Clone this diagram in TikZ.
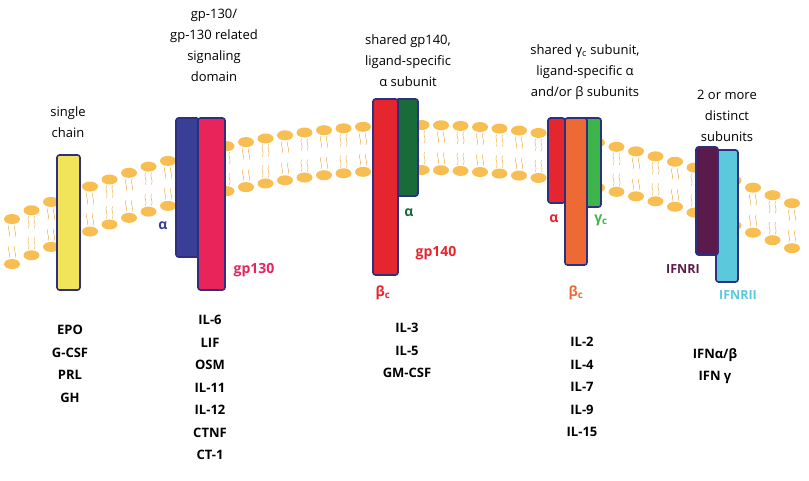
\documentclass[tikz,border=0pt]{standalone}
\usepackage{fontspec}
\setmainfont{Open Sans}
\begin{document}
\begin{tikzpicture}[x=1pt,y=-1pt,
  rec/.style={draw=navy,line width=1.6pt,rounded corners=2.5pt},
  ttl/.style={align=center,font=\fontsize{13}{21}\selectfont},
  lst/.style={align=center,font=\bfseries\fontsize{13}{22.5}\selectfont,anchor=north},
  lab/.style={font=\bfseries\fontsize{14}{16}\selectfont}]
\definecolor{navy}{HTML}{2E2F7F}
\definecolor{head}{HTML}{F8BE52}
\definecolor{cyel}{HTML}{F2E45A}
\definecolor{cblue}{HTML}{3A3F96}
\definecolor{cpink}{HTML}{E8245A}
\definecolor{cred}{HTML}{E5262E}
\definecolor{cdgreen}{HTML}{1A6B3A}
\definecolor{cgreen}{HTML}{3DB54A}
\definecolor{corange}{HTML}{EE6A35}
\definecolor{cpurple}{HTML}{5B1A4C}
\definecolor{ccyan}{HTML}{5BC8DC}
\useasboundingbox (0,0) rectangle (809,480);
% membrane
\foreach \i in {0,...,40}{
  \pgfmathsetmacro{\xx}{12+\i*19.5}
  \pgfmathsetmacro{\yy}{125+5.65*((\xx-420)/100)^2}
  \draw[head!80!brown,line width=0.5pt] (\xx-3,\yy+6) .. controls (\xx-5,\yy+10) and (\xx-1,\yy+13) .. (\xx-3,\yy+18);
  \draw[head!80!brown,line width=0.5pt] (\xx+3,\yy+6) .. controls (\xx+1,\yy+10) and (\xx+5,\yy+13) .. (\xx+3,\yy+18);
  \draw[head!80!brown,line width=0.5pt] (\xx-3,\yy+27) .. controls (\xx-5,\yy+31) and (\xx-1,\yy+34) .. (\xx-3,\yy+39);
  \draw[head!80!brown,line width=0.5pt] (\xx+3,\yy+27) .. controls (\xx+1,\yy+31) and (\xx+5,\yy+34) .. (\xx+3,\yy+39);
  \fill[head] (\xx,\yy) ellipse (8 and 5);
  \fill[head] (\xx,\yy+45) ellipse (8 and 5);
}
% receptor 1
\draw[rec,fill=cyel] (57,155) rectangle (80,290);
% receptor 2
\draw[rec,fill=cblue] (176,118) rectangle (199,257);
\draw[rec,fill=cpink] (198,118) rectangle (225,290);
\node[lab,text=cblue] (a2) at (163,226) {α};
\node[lab,text=cpink] (g2) at (254,270) {gp130};
% receptor 3
\draw[rec,fill=cdgreen] (396,99) rectangle (418,196);
\draw[rec,fill=cred] (373,99) rectangle (398,275);
\node[lab,text=cdgreen] (a3) at (409,213) {α};
\node[lab,text=cred] (g3) at (436,253) {gp140};
\node[lab,text=cred] (b3) at (383,293) {β\textsubscript{c}};
% receptor 4
\draw[rec,fill=cred] (548,118) rectangle (565,203);
\draw[rec,fill=cgreen] (583,118) rectangle (601,207);
\draw[rec,fill=corange] (565,118) rectangle (587,265);
\node[lab,text=cred] (a4) at (554,219) {α};
\node[lab,text=cgreen] (g4) at (601,220) {γ\textsubscript{c}};
\node[lab,text=corange] (b4) at (576,293) {β\textsubscript{c}};
% receptor 5
\draw[rec,fill=ccyan] (716,150) rectangle (738,282);
\draw[rec,fill=cpurple] (696,147) rectangle (718,255);
\node[lab,text=cpurple,font=\bfseries\fontsize{12.5}{14}\selectfont] (i1) at (683,269) {IFNRI};
\node[lab,text=ccyan,font=\bfseries\fontsize{12.5}{14}\selectfont] (i2) at (738,295) {IFNRII};
% titles
\node[ttl] (t1) at (68,122) {single\\chain};
\node[ttl] (t2) at (214,45) {gp-130/\\gp-130 related\\signaling\\domain};
\node[ttl] (t3) at (408,61) {shared gp140,\\ligand-specific\\α subunit};
\node[ttl] (t4) at (585,72) {shared γ\textsubscript{c} subunit,\\ligand-specific α\\and/or β subunits};
\node[ttl] (t5) at (727,116) {2 or more\\distinct\\subunits};
% lists
\node[lst] (l1) at (70,322) {EPO\\G-CSF\\PRL\\GH};
\node[lst] (l2) at (210,312) {IL-6\\LIF\\OSM\\IL-11\\IL-12\\CTNF\\CT-1};
\node[lst] (l3) at (407,320) {IL-3\\IL-5\\GM-CSF};
\node[lst] (l4) at (582,334) {IL-2\\IL-4\\IL-7\\IL-9\\IL-15};
\node[lst] (l5) at (715,345) {IFNα/β\\IFN γ};
\end{tikzpicture}
\end{document}
